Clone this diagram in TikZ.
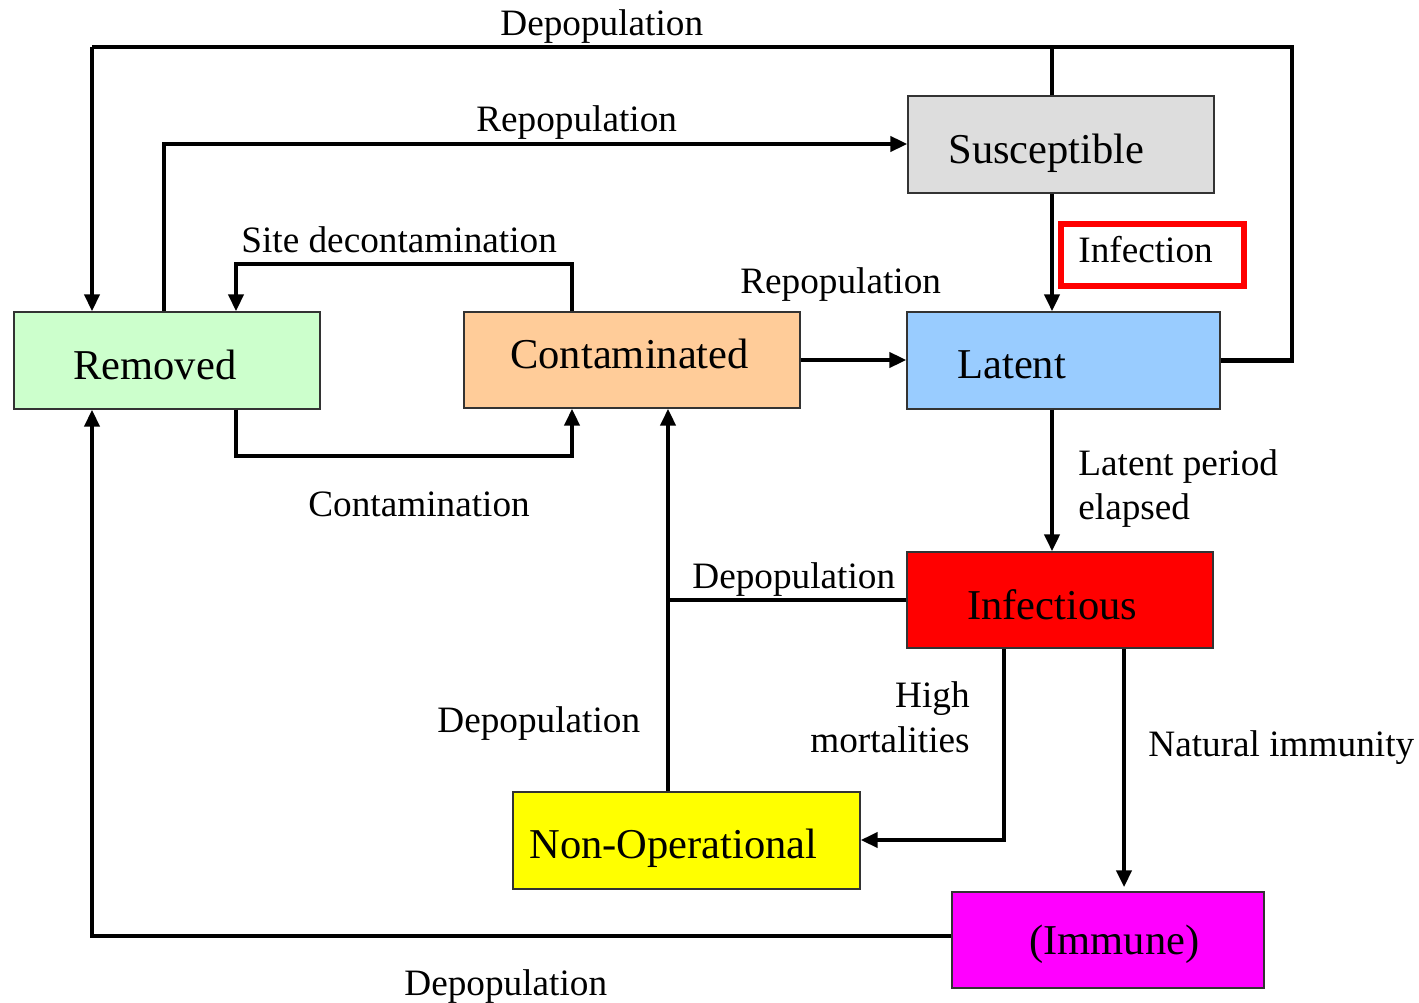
\documentclass[tikz,border=0pt]{standalone}
\usepackage{fontspec}
\setmainfont{Liberation Serif}
\usetikzlibrary{arrows.meta,fit}
\definecolor{rembg}{HTML}{CCFFCC}
\definecolor{conbg}{HTML}{FFCC99}
\definecolor{susbg}{HTML}{DDDDDD}
\definecolor{latbg}{HTML}{99CCFF}
\definecolor{infbg}{HTML}{FF0000}
\definecolor{nopbg}{HTML}{FFFF00}
\definecolor{immbg}{HTML}{FF00FF}
\begin{document}
\begin{tikzpicture}[x=0.02cm,y=-0.02cm,
  box/.style={draw=black!80, line width=0.8pt, inner sep=0pt},
  conn/.style={line width=2.8pt},
  arr/.style={conn, -{Triangle[length=0.34cm,width=0.3cm]}},
  bt/.style={font=\fontsize{24.2}{29}\selectfont, inner sep=0pt},
  lt/.style={font=\fontsize{21.2}{25}\selectfont, inner sep=0pt}]
\useasboundingbox (0,0) rectangle (1419,1003);

% boxes
\node[box, fill=rembg, fit={(14,312)(320,409)}] (rem) {};
\node[box, fill=conbg, fit={(464,312)(800,408)}] (con) {};
\node[box, fill=susbg, fit={(908,96)(1214,193)}] (sus) {};
\node[box, fill=latbg, fit={(907,312)(1220,409)}] (lat) {};
\node[box, fill=infbg, fit={(907,552)(1213,648)}] (inf) {};
\node[box, fill=nopbg, fit={(513,792)(860,889)}] (nop) {};
\node[box, fill=immbg, fit={(952,892)(1264,988)}] (imm) {};
\node[draw=red, line width=3.4pt, inner sep=0pt, fit={(1061,224)(1244,286)}] (infbox) {};

% box texts
\node[bt, anchor=base west] (remt) at (73,379) {Removed};
\node[bt, anchor=base west] (cont) at (510,368) {Contaminated};
\node[bt, anchor=base west] (sust) at (948,164) {Susceptible};
\node[bt, anchor=base west] (latt) at (957,378) {Latent};
\node[bt, anchor=base west] (inft) at (967,619) {Infectious};
\node[bt, anchor=base west] (nopt) at (529,858) {Non-Operational};
\node[bt, anchor=base west] (immt) at (1029,954) {(Immune)};

% helper coordinates
\coordinate (tl) at (92,47);
\coordinate (tr) at (1292,47);
\coordinate (vs) at (1052,0);
\coordinate (rp) at (164,144);
\coordinate (sd1) at (572,264);
\coordinate (sd2) at (236,264);
\coordinate (ct1) at (236,456);
\coordinate (ct2) at (572,456);
\coordinate (dm) at (668,600);
\coordinate (hm) at (1004,840);
\coordinate (ni) at (1124,0);
\coordinate (db) at (92,936);

% connectors
\draw[conn] (lat.east) -| (tr) -- (tl);
\draw[arr] (tl) -- (tl |- rem.north);
\draw[conn] (vs |- sus.north) -- (vs |- tl);
\draw[arr] (rp |- rem.north) -- (rp) -- (rp -| sus.west);
\draw[arr] (sd1 |- con.north) -- (sd1) -- (sd2) -- (sd2 |- rem.north);
\draw[arr] (ct1 |- rem.south) -- (ct1) -- (ct2) -- (ct2 |- con.south);
\draw[arr] (con.east) -- (con.east -| lat.west);
\draw[arr] (vs |- sus.south) -- (vs |- lat.north);
\draw[arr] (vs |- lat.south) -- (vs |- inf.north);
\draw[conn] (inf.west) -- (dm);
\draw[arr] (dm |- nop.north) -- (dm |- con.south);
\draw[arr] (hm |- inf.south) -- (hm) -- (hm -| nop.east);
\draw[arr, shorten >=2.3pt] (ni |- inf.south) -- (ni |- imm.north);
\draw[arr] (db -| imm.west) -- (db) -- (db |- rem.south);

% labels
\node[lt, anchor=base west] (l1) at (500,36) {Depopulation};
\node[lt, anchor=base west] (l2) at (476,132) {Repopulation};
\node[lt, anchor=base west] (l3) at (241,253) {Site decontamination};
\node[lt, anchor=base west] (l4) at (740,294) {Repopulation};
\node[lt, anchor=base west] (l5) at (1078,263) {Infection};
\node[lt, anchor=base west] (l6) at (308,516) {Contamination};
\node[lt, anchor=base west] (l7) at (1078,475) {Latent period};
\node[lt, anchor=base west] (l8) at (1078,519) {elapsed};
\node[lt, anchor=base west] (l9) at (692,588) {Depopulation};
\node[lt, anchor=base west] (l10) at (437,732) {Depopulation};
\node[lt, anchor=base east] (l11) at (970,707) {High};
\node[lt, anchor=base east] (l12) at (970,752) {mortalities};
\node[lt, anchor=base west] (l13) at (1148,756) {Natural immunity};
\node[lt, anchor=base west] (l14) at (404,995) {Depopulation};
\end{tikzpicture}
\end{document}
